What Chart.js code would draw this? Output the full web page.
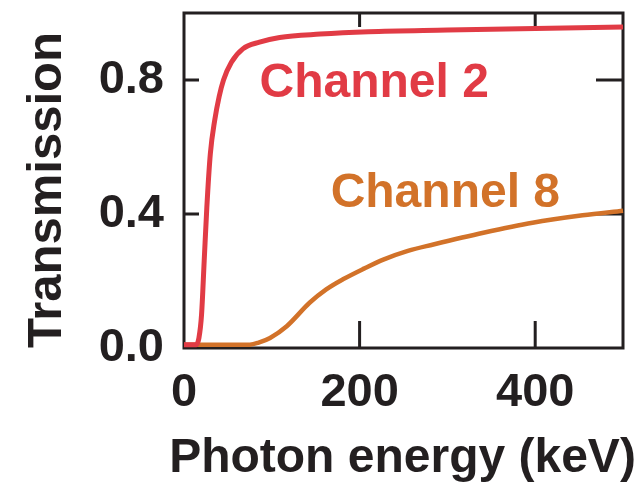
<!DOCTYPE html>
<html>
<head>
<meta charset="utf-8">
<script src="https://cdn.jsdelivr.net/npm/chart.js@4.4.1/dist/chart.umd.min.js"></script>
<style>
  html, body { margin: 0; padding: 0; background: #fff; }
  #wrap { width: 640px; height: 482px; }
</style>
</head>
<body>
<div id="wrap"><canvas id="chart" width="640" height="482"></canvas></div>
<script>
// Channel 2 (red)
const ch2Energy = [0, 14, 17, 20, 23, 26, 30, 35, 40, 45, 54, 67, 86, 109, 155, 210, 300, 400, 500];
const ch2Trans  = [0.01, 0.01, 0.03, 0.10, 0.26, 0.42, 0.58, 0.68, 0.75, 0.80, 0.853, 0.893, 0.913, 0.927, 0.937, 0.944, 0.949, 0.954, 0.958];

// Channel 8 (orange)
const ch8Energy = [0, 60, 75, 85, 98, 117, 143, 162, 181, 205, 227, 255, 284, 341, 397, 454, 500];
const ch8Trans  = [0.01, 0.01, 0.01, 0.016, 0.03, 0.065, 0.135, 0.175, 0.205, 0.237, 0.264, 0.29, 0.309, 0.344, 0.374, 0.396, 0.41];

const seriesNames = ['Channel 2', 'Channel 8'];
const xTicks = [0, 200, 400];
const yTicks = [0, 0.4, 0.8];
const xTitle = 'Photon energy (keV)';
const yTitle = 'Transmission';

const RED = '#e13b45';
const ORANGE = '#d27229';
const INK = '#231f20';
const FONT = "'Liberation Sans', Arial, sans-serif";

function toPoints(xs, ys) {
    return xs.map((x, i) => ({ x: x, y: ys[i] }));
}

// closed box with inward ticks (short on left/top, long on right/bottom)
const frame = {
    id: 'frame',
    beforeDatasetsDraw(chart) {
        const { ctx, chartArea: a, scales: { x, y } } = chart;
        ctx.save();
        ctx.strokeStyle = INK;
        ctx.lineWidth = 3;
        ctx.beginPath();
        xTicks.forEach(v => {
            if (v === x.min) return;
            const px = x.getPixelForValue(v);
            ctx.moveTo(px, a.bottom); ctx.lineTo(px, a.bottom - 27);
            ctx.moveTo(px, a.top); ctx.lineTo(px, a.top + 14);
        });
        yTicks.forEach(v => {
            if (v === y.min) return;
            const py = y.getPixelForValue(v);
            ctx.moveTo(a.left, py); ctx.lineTo(a.left + 15, py);
            ctx.moveTo(a.right, py); ctx.lineTo(a.right - 27, py);
        });
        ctx.stroke();
        ctx.strokeRect(a.left, a.top, a.right - a.left, a.bottom - a.top);
        ctx.restore();
    }
};

// curve names next to each curve + the x title (the built-in one gets squeezed to the axis width)
const labelSpots = [{ x: 86, y: 0.75 }, { x: 167, y: 0.42 }];
const texts = {
    id: 'texts',
    afterDatasetsDraw(chart) {
        const { ctx, chartArea: a, scales: { x, y } } = chart;
        ctx.save();
        ctx.font = 'bold 48px ' + FONT;
        ctx.textAlign = 'left';
        ctx.textBaseline = 'alphabetic';
        chart.data.datasets.forEach((ds, i) => {
            ctx.fillStyle = ds.borderColor;
            ctx.fillText(ds.label, x.getPixelForValue(labelSpots[i].x), y.getPixelForValue(labelSpots[i].y));
        });
        ctx.textAlign = 'center';
        ctx.fillStyle = INK;
        ctx.fillText(xTitle, (a.left + a.right) / 2 - 1, 472);
        ctx.restore();
    }
};

const tickFont = { family: FONT, size: 47, weight: 'bold', lineHeight: 1 };
const titleFont = { family: FONT, size: 49, weight: 'bold', lineHeight: 1 };

new Chart(document.getElementById('chart'), {
    type: 'line',
    data: {
        datasets: [
            { label: seriesNames[0], data: toPoints(ch2Energy, ch2Trans), borderColor: RED, borderWidth: 5,
              pointRadius: 0, cubicInterpolationMode: 'monotone', clip: false },
            { label: seriesNames[1], data: toPoints(ch8Energy, ch8Trans), borderColor: ORANGE, borderWidth: 4.5,
              pointRadius: 0, cubicInterpolationMode: 'monotone', clip: false }
        ]
    },
    options: {
        responsive: false,
        animation: false,
        layout: { padding: { top: 13, right: 17, bottom: 0, left: 0 } },
        plugins: { legend: { display: false }, tooltip: { enabled: false } },
        scales: {
            x: {
                type: 'linear', min: 0, max: 500,
                afterBuildTicks: s => { s.ticks = xTicks.map(v => ({ value: v })); },
                afterFit: s => { s.height = 134; s.paddingLeft = 0; s.paddingRight = 0; },
                grid: { display: false, drawTicks: false },
                border: { display: false },
                ticks: { padding: 22, color: INK, font: tickFont, maxRotation: 0, autoSkip: false }
            },
            y: {
                type: 'linear', min: 0, max: 1,
                afterBuildTicks: s => { s.ticks = yTicks.map(v => ({ value: v })); },
                afterFit: s => { s.width = 184; s.paddingTop = 0; s.paddingBottom = 0; },
                grid: { display: false, drawTicks: false },
                border: { display: false },
                ticks: { padding: 20, color: INK, font: tickFont, callback: v => v.toFixed(1) },
                title: { display: true, text: yTitle, align: 'start', color: INK, font: titleFont,
                         padding: { top: 23, bottom: 0 } }
            }
        }
    },
    plugins: [frame, texts]
});
</script>
</body>
</html>
